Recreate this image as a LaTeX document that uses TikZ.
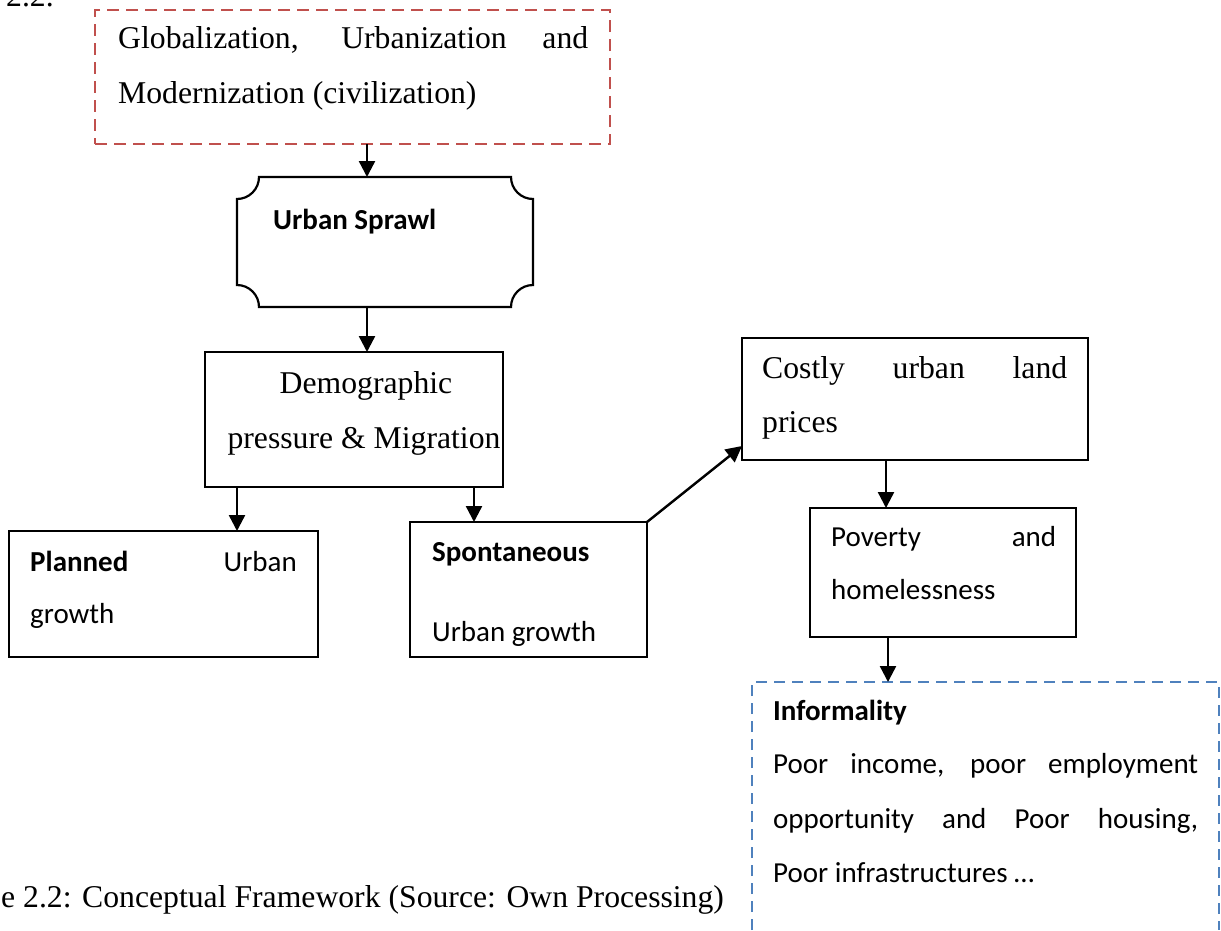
\documentclass[tikz,border=0pt]{standalone}
\usepackage{fontspec}
\setmainfont{Liberation Serif}
\newfontfamily\calib{Carlito}
\usetikzlibrary{arrows.meta}
\definecolor{redd}{HTML}{C0504D}
\definecolor{blued}{HTML}{4F81BD}
\tikzset{
 box/.style={draw, line width=2.2pt, inner sep=0pt, outer sep=0pt, anchor=north west},
 txs/.style={inner sep=0pt, anchor=base west, font=\fontsize{31.7}{38}\selectfont},
 txc/.style={inner sep=0pt, anchor=base west, font=\calib\fontsize{29}{35}\selectfont},
 arr/.style={line width=2.4pt, -{Triangle[width=16pt,length=16pt]}},
 reddash/.style={draw=redd, line width=2.6pt, dash pattern=on 12pt off 7pt},
 bluedash/.style={draw=blued, line width=2.6pt, dash pattern=on 11pt off 7pt},
}
\begin{document}
\begin{tikzpicture}[x=1pt,y=-1pt]
\useasboundingbox (0,0) rectangle (1221,930);
% boxes
\node[box, reddash, minimum width=515pt, minimum height=134pt] (red) at (95,10) {};
\node[inner sep=0pt, outer sep=0pt, anchor=north west, minimum width=296pt, minimum height=130pt] (sprawl) at (237,177) {};
\draw[line width=2.2pt] (259,177) -- (511,177) .. controls (511,189.15) and (520.85,199) .. (533,199)
  -- (533,285) .. controls (520.85,285) and (511,294.85) .. (511,307)
  -- (259,307) .. controls (259,294.85) and (249.15,285) .. (237,285)
  -- (237,199) .. controls (249.15,199) and (259,189.15) .. (259,177) -- cycle;
\node[box, minimum width=298pt, minimum height=135pt] (demo) at (205,352) {};
\node[box, minimum width=309pt, minimum height=126pt] (plan) at (9,531) {};
\node[box, minimum width=237pt, minimum height=135pt] (spont) at (410,522) {};
\node[box, minimum width=346pt, minimum height=122pt] (costly) at (742,338) {};
\node[box, minimum width=266pt, minimum height=129pt] (pov) at (810,508) {};
\node[inner sep=0pt, outer sep=0pt, anchor=north west, minimum width=467pt, minimum height=248pt] (inf) at (752,682) {};
\draw[bluedash] (inf.south west) -- (inf.north west) -- (inf.north east) -- (inf.south east);
% texts
\node[txs] (top) at (6,6) {2.2.};
\node[txs] (r1) at (118,48) {\makebox[470pt][s]{Globalization, Urbanization and}};
\node[txs] (r2) at (118,103) {Modernization (civilization)};
\node[txc] (s1) at (273,229) {\textbf{Urban Sprawl}};
\node[txs, anchor=base] (d1) at (366,393) {Demographic};
\node[txs, anchor=base] (d2) at (364,448) {pressure \& Migration};
\node[txc] (p1) at (30,571) {\textbf{Planned}};
\node[txc, anchor=base east] (p2) at (297,571) {Urban};
\node[txc] (p3) at (30,623) {growth};
\node[txc] (sp1) at (432,561) {\textbf{Spontaneous}};
\node[txc] (sp2) at (432,641) {Urban growth};
\node[txs] (c1) at (762,378) {\makebox[305pt][s]{Costly urban land}};
\node[txs] (c2) at (762,432) {prices};
\node[txc] (v1) at (831,546) {\makebox[225pt][s]{Poverty and}};
\node[txc] (v2) at (831,599) {homelessness};
\node[txc] (i1) at (773,720) {\textbf{Informality}};
\node[txc] (i2) at (773,773) {\makebox[425pt][s]{Poor income, poor employment}};
\node[txc] (i3) at (773,828) {\makebox[425pt][s]{opportunity and Poor housing,}};
\node[txc] (i4) at (773,882) {Poor infrastructures …};
\node[txs] (cap) at (1,907) {e 2.2: Conceptual Framework (Source: Own Processing)};
% connectors
\coordinate (x1) at (367,0);
\coordinate (x3) at (237,0);
\coordinate (x4) at (474,0);
\coordinate (x6) at (886,0);
\coordinate (x7) at (888,0);
\coordinate (y5) at (0,446);
\draw[arr] (x1 |- red.south) -- (x1 |- sprawl.north);
\draw[arr] (x1 |- sprawl.south) -- (x1 |- demo.north);
\draw[arr] (x3 |- demo.south) -- (x3 |- plan.north);
\draw[arr] (x4 |- demo.south) -- (x4 |- spont.north);
\draw[arr] (spont.north east) -- (costly.west |- y5);
\draw[arr] (x6 |- costly.south) -- (x6 |- pov.north);
\draw[arr] (x7 |- pov.south) -- (x7 |- inf.north);
\end{tikzpicture}
\end{document}
